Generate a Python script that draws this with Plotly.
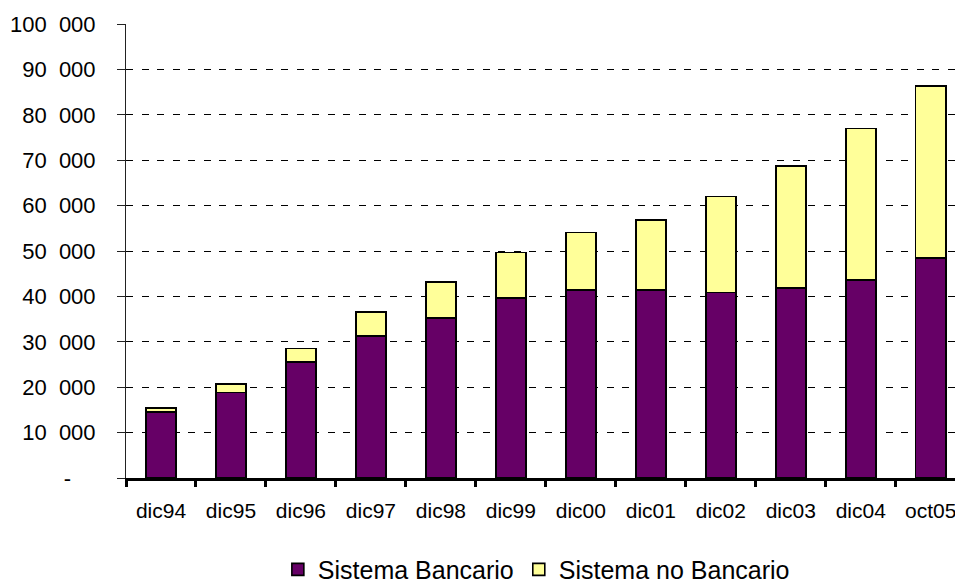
import plotly.graph_objects as go

# Periods and stacked series (millions)
periods = ["dic94", "dic95", "dic96", "dic97", "dic98", "dic99",
           "dic00", "dic01", "dic02", "dic03", "dic04", "oct05"]
bancario = [14500, 18800, 25500, 31300, 35200, 39600,
            41400, 41400, 40900, 41800, 43600, 48400]
no_bancario = [900, 1900, 3000, 5200, 8000, 10100,
               12700, 15400, 21100, 26900, 33400, 37900]

SP = "\u00a0\u00a0"  # wide thousands separator
y_tickvals = [0, 10000, 20000, 30000, 40000, 50000,
              60000, 70000, 80000, 90000, 100000]
y_ticktext = ["-\u00a0\u00a0\u00a0\u00a0"] + [
    f"{v // 1000}{SP}000" for v in y_tickvals[1:]
]

FONT = "Arial, Liberation Sans, sans-serif"

fig = go.Figure()
fig.add_trace(go.Bar(
    x=periods, y=bancario, name="Sistema Bancario",
    marker=dict(color="#660066", line=dict(color="#000000", width=1.6)),
    width=0.43,
))
fig.add_trace(go.Bar(
    x=periods, y=no_bancario, name="Sistema no Bancario",
    marker=dict(color="#FFFF99", line=dict(color="#000000", width=1.6)),
    width=0.43,
))

fig.update_layout(
    barmode="stack",
    width=955, height=586,
    margin=dict(l=126, r=0, t=24, b=108, autoexpand=False),
    paper_bgcolor="white", plot_bgcolor="white",
    font=dict(family=FONT, size=21, color="#000000"),
    showlegend=True,
    legend=dict(
        orientation="h", x=0.495, xanchor="center",
        yref="container", y=0.028, yanchor="middle",
        font=dict(family=FONT, size=25, color="#000000"),
        itemwidth=30, traceorder="normal",
    ),
    xaxis=dict(
        type="category",
        range=[-0.5, 11.347],
        showline=True, linecolor="#000000", linewidth=3,
        ticks="outside", tickson="boundaries", ticklen=6, tickwidth=3,
        tickcolor="#000000",
        showgrid=False, zeroline=False,
        ticklabelstandoff=12,
        tickfont=dict(family=FONT, size=21, color="#000000"),
    ),
    yaxis=dict(
        range=[0, 100000],
        tickvals=y_tickvals, ticktext=y_ticktext,
        showline=True, linecolor="#222222", linewidth=1,
        ticks="outside", ticklen=8, tickwidth=1, tickcolor="#222222",
        showgrid=True, gridcolor="#000000", gridwidth=1,
        griddash="7px,8.5px",
        zeroline=False,
        ticklabelstandoff=17,
        tickfont=dict(family=FONT, size=22, color="#000000"),
    ),
)

fig.write_html("out.html")
